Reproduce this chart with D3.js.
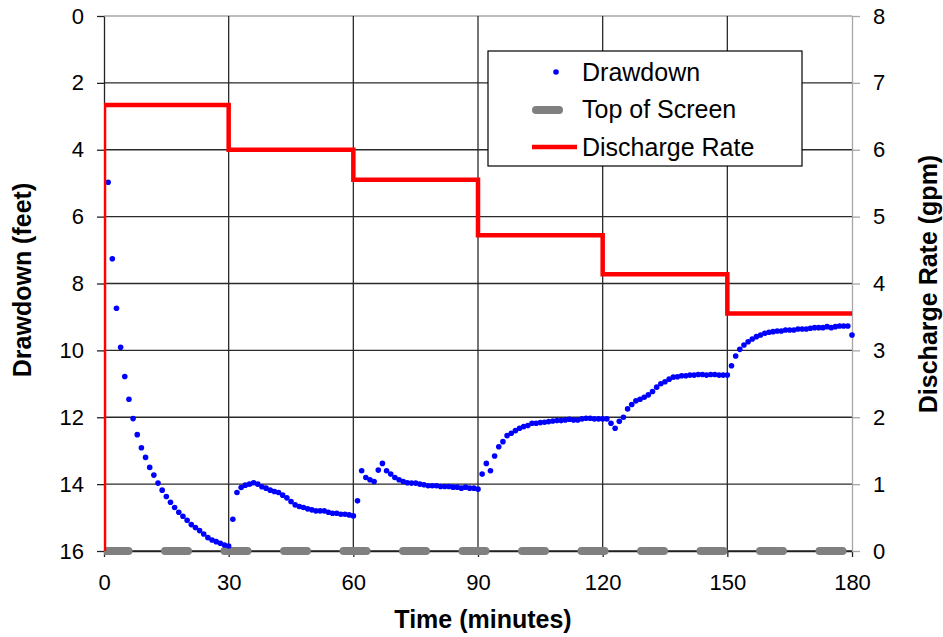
<!DOCTYPE html>
<html>
<head>
<meta charset="utf-8">
<script src="https://cdn.jsdelivr.net/npm/d3@7"></script>
<style>
    body { margin: 0; background: #fff; }
    svg { display: block; font-family: "Liberation Sans", Arial, sans-serif; }
</style>
</head>
<body>
<div id="chart"></div>
<script>

// time of each reading (minutes since pumping started)
var minutes = d3.range(1, 181);

// drawdown readings (feet), one per minute
var drawdown = [
    4.97, 7.26, 8.74, 9.91, 10.78, 11.46, 12.04, 12.52, 12.91, 13.20,
    13.50, 13.73, 13.97, 14.18, 14.37, 14.54, 14.70, 14.84, 14.96, 15.08,
    15.21, 15.30, 15.39, 15.49, 15.60, 15.67, 15.72, 15.77, 15.82, 15.85,
    15.05, 14.25, 14.10, 14.03, 14.00, 13.96, 14.00, 14.08, 14.12, 14.18,
    14.22, 14.25, 14.33, 14.41, 14.52, 14.62, 14.67, 14.70, 14.74, 14.77,
    14.80, 14.80, 14.80, 14.84, 14.87, 14.87, 14.90, 14.90, 14.92, 14.95,
    14.50, 13.60, 13.80, 13.87, 13.92, 13.58, 13.38, 13.60, 13.70, 13.80,
    13.87, 13.92, 13.96, 13.97, 13.97, 14.00, 14.02, 14.05, 14.05, 14.05,
    14.07, 14.07, 14.07, 14.09, 14.09, 14.12, 14.09, 14.12, 14.12, 14.15,
    13.70, 13.38, 13.60, 13.16, 12.88, 12.73, 12.55, 12.48, 12.40, 12.33,
    12.28, 12.25, 12.18, 12.18, 12.16, 12.15, 12.13, 12.11, 12.10, 12.10,
    12.08, 12.06, 12.08, 12.08, 12.05, 12.03, 12.03, 12.05, 12.05, 12.05,
    12.05, 12.18, 12.33, 12.12, 12.00, 11.75, 11.62, 11.51, 11.46, 11.40,
    11.33, 11.23, 11.10, 11.00, 10.94, 10.86, 10.80, 10.79, 10.76, 10.76,
    10.74, 10.74, 10.72, 10.72, 10.74, 10.72, 10.72, 10.74, 10.74, 10.74,
    10.46, 10.17, 9.97, 9.84, 9.74, 9.66, 9.59, 9.54, 9.49, 9.46,
    9.44, 9.42, 9.42, 9.39, 9.39, 9.39, 9.36, 9.36, 9.36, 9.34,
    9.32, 9.32, 9.32, 9.29, 9.32, 9.29, 9.27, 9.27, 9.27, 9.54
];

// step test: start time of each step and its pumping rate (gpm)
var stepStart = [0, 30, 60, 90, 120, 150];
var dischargeRate = [6.67, 6.00, 5.55, 4.72, 4.14, 3.55];
var testEnd = 180;

// top of well screen (feet below static level)
var screenTime = [0, 180];
var screenDepth = [16, 16];

var timeTicks = [0, 30, 60, 90, 120, 150, 180];
var depthTicks = [0, 2, 4, 6, 8, 10, 12, 14, 16];
var rateTicks = [0, 1, 2, 3, 4, 5, 6, 7, 8];

var legendLabels = ["Drawdown", "Top of Screen", "Discharge Rate"];


StepTestChart = function(_parentElement) {
    this.parentElement = _parentElement;

    this.margin = { top: 16, right: 91, bottom: 86, left: 104 };
    this.width = 943 - this.margin.left - this.margin.right;
    this.height = 637 - this.margin.top - this.margin.bottom;

    this.initVis();
}

/*
 *  Scales, axes, grid
 */
StepTestChart.prototype.initVis = function() {
    var vis = this;

    vis.svg = d3.select(vis.parentElement).append("svg")
        .attr("width", 943)
        .attr("height", 637);

    vis.g = vis.svg.append("g")
        .attr("transform", "translate(" + vis.margin.left + "," + vis.margin.top + ")");

    vis.x = d3.scaleLinear().domain([0, 180]).range([0, vis.width]);
    vis.y = d3.scaleLinear().domain([0, 16]).range([0, vis.height]);
    vis.y2 = d3.scaleLinear().domain([0, 8]).range([vis.height, 0]);

    vis.svg.append("clipPath").attr("id", "plot-clip")
        .append("rect").attr("width", vis.width).attr("height", vis.height);
    vis.svg.append("clipPath").attr("id", "x-clip")
        .append("rect").attr("y", -20).attr("width", vis.width).attr("height", vis.height + 40);

    // gridlines
    vis.g.selectAll(".hgrid").data(depthTicks)
        .enter().append("line")
        .attr("x1", 0).attr("x2", vis.width)
        .attr("y1", function(d) { return vis.y(d); })
        .attr("y2", function(d) { return vis.y(d); })
        .attr("stroke", function(d) { return d == 0 ? "#a6a6a6" : "#2a2a2a"; })
        .attr("stroke-width", 1.3);

    vis.g.selectAll(".vgrid").data(timeTicks.slice(1, -1))
        .enter().append("line")
        .attr("y1", 0).attr("y2", vis.height)
        .attr("x1", function(d) { return vis.x(d); })
        .attr("x2", function(d) { return vis.x(d); })
        .attr("stroke", "#2a2a2a")
        .attr("stroke-width", 1.3);

    // axes
    var xAxis = d3.axisBottom(vis.x).tickValues(timeTicks).tickSize(6).tickSizeOuter(0).tickPadding(17);
    var yAxis = d3.axisLeft(vis.y).tickValues(depthTicks).tickSize(7).tickSizeOuter(0).tickPadding(13);
    var y2Axis = d3.axisRight(vis.y2).tickValues(rateTicks).tickSize(8).tickSizeOuter(0).tickPadding(13);

    var gx = vis.g.append("g").attr("transform", "translate(0," + vis.height + ")").call(xAxis);
    var gy = vis.g.append("g").call(yAxis);
    var gy2 = vis.g.append("g").attr("transform", "translate(" + vis.width + ",0)").call(y2Axis);

    [gx, gy].forEach(function(a) {
        a.select(".domain").attr("stroke", "#222").attr("stroke-width", 1.3);
        a.selectAll(".tick line").attr("stroke", "#222").attr("stroke-width", 1.3);
    });
    gy2.select(".domain").attr("stroke", "#a6a6a6").attr("stroke-width", 1.3);
    gy2.selectAll(".tick line").attr("stroke", "#a6a6a6").attr("stroke-width", 1.3);

    vis.svg.selectAll(".tick text")
        .attr("font-size", 22)
        .attr("font-family", "Liberation Sans, Arial, sans-serif")
        .attr("fill", "#000");

    // axis titles
    vis.svg.append("text")
        .attr("x", 483).attr("y", 628)
        .attr("text-anchor", "middle")
        .attr("font-size", 25).attr("font-weight", "bold")
        .text("Time (minutes)");

    vis.svg.append("text")
        .attr("transform", "translate(31,280) rotate(-90)")
        .attr("text-anchor", "middle")
        .attr("font-size", 25).attr("font-weight", "bold")
        .text("Drawdown (feet)");

    vis.svg.append("text")
        .attr("transform", "translate(937,284) rotate(-90)")
        .attr("text-anchor", "middle")
        .attr("font-size", 25).attr("font-weight", "bold")
        .text("Discharge Rate (gpm)");

    vis.wrangleData();
}

/*
 *  Data wrangling
 */
StepTestChart.prototype.wrangleData = function() {
    var vis = this;

    vis.drawdownData = minutes.map(function(t, i) { return { t: t, dd: drawdown[i] }; });
    vis.screenData = screenTime.map(function(t, i) { return { t: t, dd: screenDepth[i] }; });

    // pump off before t=0, then each step, held to the end of the test
    vis.rateData = [{ t: 0, q: 0 }];
    stepStart.forEach(function(t, i) { vis.rateData.push({ t: t, q: dischargeRate[i] }); });
    vis.rateData.push({ t: testEnd, q: dischargeRate[dischargeRate.length - 1] });

    vis.updateVis();
}

/*
 *  The drawing function
 */
StepTestChart.prototype.updateVis = function() {
    var vis = this;

    var screenLine = d3.line()
        .x(function(d) { return vis.x(d.t); })
        .y(function(d) { return vis.y(d.dd); });

    vis.g.append("path")
        .datum(vis.screenData)
        .attr("clip-path", "url(#x-clip)")
        .attr("d", screenLine)
        .attr("fill", "none")
        .attr("stroke", "#808080")
        .attr("stroke-width", 8)
        .attr("stroke-linecap", "round")
        .attr("stroke-dasharray", "23,36.5")
        .attr("stroke-dashoffset", 58);

    vis.g.selectAll(".dd").data(vis.drawdownData)
        .enter().append("circle")
        .attr("cx", function(d) { return vis.x(d.t); })
        .attr("cy", function(d) { return vis.y(d.dd); })
        .attr("r", 2.8)
        .attr("fill", "#0000ff");

    var rateLine = d3.line()
        .curve(d3.curveStepAfter)
        .x(function(d) { return vis.x(d.t); })
        .y(function(d) { return vis.y2(d.q); });

    vis.g.append("path")
        .datum(vis.rateData)
        .attr("clip-path", "url(#plot-clip)")
        .attr("d", rateLine)
        .attr("fill", "none")
        .attr("stroke", "#ff0000")
        .attr("stroke-width", 4.5);

    // legend
    var lg = vis.svg.append("g").attr("transform", "translate(488,51)");
    lg.append("rect")
        .attr("width", 314).attr("height", 115)
        .attr("fill", "#fff").attr("stroke", "#000").attr("stroke-width", 1.2);

    lg.selectAll(".lbl").data(legendLabels)
        .enter().append("text")
        .attr("x", 94)
        .attr("y", function(d, i) { return 21 + i * 37.5; })
        .attr("dy", "0.35em")
        .attr("font-size", 25)
        .text(function(d) { return d; });

    lg.append("circle").attr("cx", 68).attr("cy", 21).attr("r", 2.8).attr("fill", "#0000ff");
    lg.append("line")
        .attr("x1", 48).attr("x2", 71).attr("y1", 59).attr("y2", 59)
        .attr("stroke", "#808080").attr("stroke-width", 8).attr("stroke-linecap", "round");
    lg.append("line")
        .attr("x1", 44).attr("x2", 89).attr("y1", 96).attr("y2", 96)
        .attr("stroke", "#ff0000").attr("stroke-width", 4.5);
}

new StepTestChart("#chart");

</script>
</body>
</html>
